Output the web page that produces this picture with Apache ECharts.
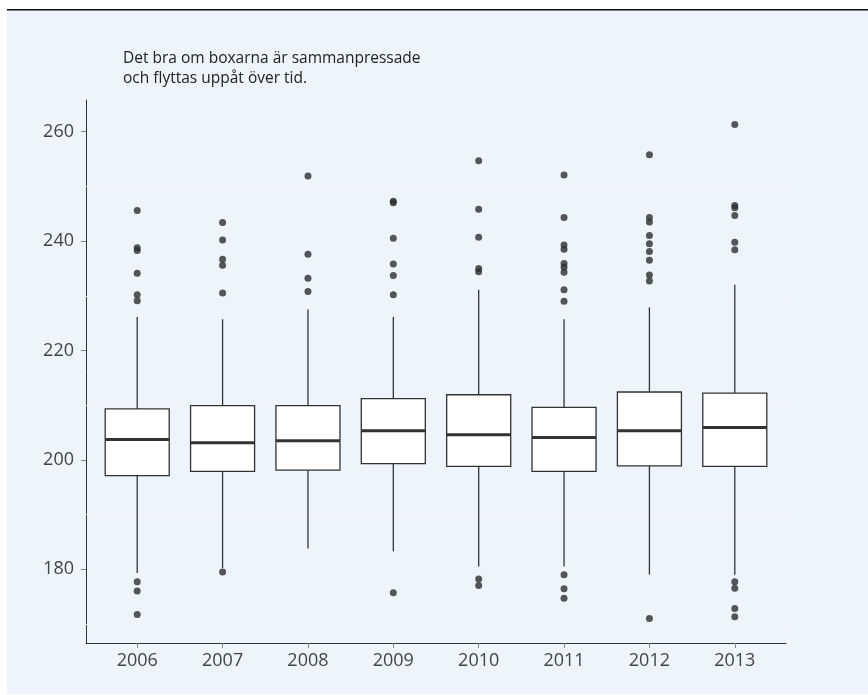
<!DOCTYPE html>
<html>
<head>
<meta charset="utf-8">
<script src="https://cdn.jsdelivr.net/npm/echarts@6/dist/echarts.min.js"></script>
<style>
html,body{margin:0;padding:0;background:#fff;}
#c{width:868px;height:695px;}
</style>
</head>
<body>
<div id="c"></div>
<script>
const years = [2006, 2007, 2008, 2009, 2010, 2011, 2012, 2013];
const whiskerLow  = [179.3, 180.2, 183.8, 183.3, 180.5, 180.5, 179.0, 179.0];
const q1          = [197.1, 197.9, 198.1, 199.3, 198.8, 197.9, 198.9, 198.8];
const median      = [203.7, 203.1, 203.5, 205.3, 204.6, 204.1, 205.3, 205.9];
const q3          = [209.3, 209.9, 209.9, 211.2, 211.9, 209.6, 212.4, 212.2];
const whiskerHigh = [226.1, 225.7, 227.5, 226.1, 231.1, 225.7, 227.9, 232.0];
const outliers = [
  [245.6, 238.8, 238.3, 234.1, 230.2, 229.1, 177.7, 176.0, 171.7],
  [243.4, 240.2, 236.7, 235.6, 230.5, 179.5],
  [251.9, 237.6, 233.2, 230.8],
  [247.3, 247.0, 240.5, 235.8, 233.7, 230.2, 175.7],
  [254.7, 245.8, 240.7, 235.0, 234.4, 178.2, 177.0],
  [252.1, 244.3, 239.3, 238.5, 235.9, 235.2, 234.3, 231.1, 229.0, 179.0, 176.4, 174.7],
  [255.8, 244.3, 243.5, 241.0, 239.5, 238.1, 236.5, 233.8, 232.7, 171.0],
  [261.3, 246.5, 246.1, 244.7, 239.8, 238.4, 177.7, 176.5, 172.8, 171.3]
];
const yTicks = [180, 200, 220, 240, 260];
const minorGrid = [170, 190, 210, 230, 250];
const note = 'Det bra om boxarna är sammanpressade\noch flyttas uppåt över tid.';

const boxData = years.map((y, i) => [y, whiskerLow[i], q1[i], median[i], q3[i], whiskerHigh[i]]);
const outData = [];
outliers.forEach((arr, i) => arr.forEach(v => outData.push([years[i], v])));

const FONT = 'Open Sans';
const chart = echarts.init(document.getElementById('c'), null, {renderer: 'canvas'});
chart.setOption({
  backgroundColor: '#ffffff',
  animation: false,
  graphic: [
    {type: 'rect', left: 7, top: 10, shape: {width: 861, height: 684}, style: {fill: '#edf4fc'}, z: -10, silent: true},
    {type: 'rect', left: 7, top: 9, shape: {width: 861, height: 1.5}, style: {fill: '#111'}, z: -9, silent: true},
    {type: 'text', left: 123, top: 49, style: {text: note, fontFamily: FONT, fontSize: 15.5, lineHeight: 20, fill: '#222'}, silent: true}
  ],
  grid: {left: 86, top: 100, right: 82, bottom: 52},
  xAxis: {
    type: 'value', min: 2005.4, max: 2013.6,
    axisLine: {show: true, lineStyle: {color: '#333', width: 1}},
    axisTick: {show: true, length: 5, lineStyle: {color: '#888'}, customValues: years},
    axisLabel: {customValues: years, color: '#444', fontSize: 18, fontFamily: FONT, margin: 9, formatter: v => String(v)},
    splitLine: {show: false}
  },
  yAxis: {
    type: 'value', min: 166.5, max: 265.8,
    axisLine: {show: true, lineStyle: {color: '#333', width: 1}},
    axisTick: {show: true, length: 5, lineStyle: {color: '#888'}, customValues: yTicks},
    axisLabel: {customValues: yTicks, color: '#444', fontSize: 18, fontFamily: FONT, margin: 12},
    splitLine: {show: false}
  },
  series: [
    {
      type: 'scatter',
      data: [],
      z: 1,
      silent: true,
      markLine: {
        silent: true,
        z: 1,
        symbol: ['none', 'none'],
        label: {show: false},
        lineStyle: {color: '#f3f5f3', width: 1, type: 'solid'},
        data: minorGrid.map(v => ({yAxis: v}))
      }
    },
    {
      type: 'custom',
      data: boxData,
      z: 3,
      renderItem: function (params, api) {
        const x = api.value(0);
        const lo = api.coord([x, api.value(1)]);
        const b1 = api.coord([x, api.value(2)]);
        const md = api.coord([x, api.value(3)]);
        const b3 = api.coord([x, api.value(4)]);
        const hi = api.coord([x, api.value(5)]);
        const w = api.size([1, 0])[0] * 0.75;
        const cx = lo[0];
        const stroke = '#333';
        return {
          type: 'group',
          children: [
            {type: 'line', shape: {x1: cx, y1: hi[1], x2: cx, y2: b3[1]}, style: {stroke, lineWidth: 1.3}},
            {type: 'line', shape: {x1: cx, y1: b1[1], x2: cx, y2: lo[1]}, style: {stroke, lineWidth: 1.3}},
            {type: 'rect', shape: {x: cx - w / 2, y: b3[1], width: w, height: b1[1] - b3[1]}, style: {fill: '#fff', stroke, lineWidth: 1.3}},
            {type: 'line', shape: {x1: cx - w / 2, y1: md[1], x2: cx + w / 2, y2: md[1]}, style: {stroke, lineWidth: 3}}
          ]
        };
      }
    },
    {
      type: 'scatter',
      data: outData,
      symbolSize: 7,
      itemStyle: {color: '#2d2d2d'},
      z: 4
    }
  ]
});
</script>
</body>
</html>
